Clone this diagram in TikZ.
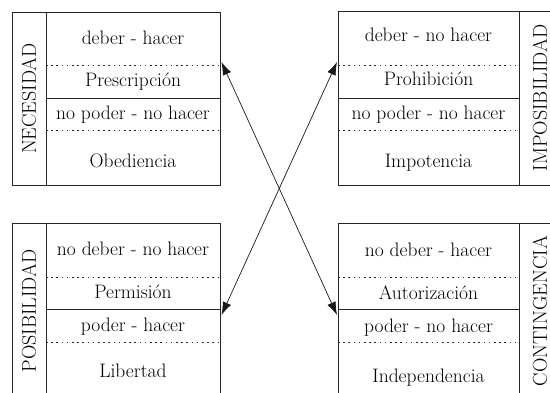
\documentclass[tikz,border=0pt]{standalone}
\usepackage{fontspec}
\usepackage{tikz}
\usetikzlibrary{arrows.meta}
\tikzset{
    cell-text/.style = {inner sep=0pt, text height=13pt, text depth=4pt, font=\fontsize{19.5}{23}\selectfont},
    side-title/.style = {inner sep=0pt, rotate=90, font=\fontsize{20}{24}\selectfont},
    box-line/.style = {draw=black!85, line width=0.8pt},
    dot-line/.style = {draw=black!85, line width=0.8pt, dash pattern=on 1.6pt off 3.6pt},
    cross-arrow/.style = {draw=black!90, line width=0.7pt, {Latex[length=13pt,width=9pt]}-{Latex[length=13pt,width=9pt]}},
}

\begin{document}
\begin{tikzpicture}[x=1pt,y=1pt]
\useasboundingbox (0,0) rectangle (550,392);
\clip (0,0) rectangle (550,392);

% necesidad (arriba izquierda)
\draw[box-line] (12,207) rectangle (220,380);
\draw[box-line] (46,207) -- (46,380);
\draw[dot-line] (46,327) -- (220,327);
\draw[box-line] (46,294) -- (220,294);
\draw[dot-line] (46,262) -- (220,262);
\node[side-title] (nec) at (29,293.5) {NECESIDAD};
\node[cell-text] (nec-a) at (133,352) {deber - hacer};
\node[cell-text] (nec-b) at (133,310) {Prescripción};
\node[cell-text] (nec-c) at (133,277) {no poder - no hacer};
\node[cell-text] (nec-d) at (133,229) {Obediencia};

% imposibilidad (arriba derecha)
\draw[box-line] (338,207) rectangle (560,381);
\draw[box-line] (519,207) -- (519,381);
\draw[dot-line] (338,327) -- (519,327);
\draw[box-line] (338,294) -- (519,294);
\draw[dot-line] (338,262) -- (519,262);
\node[side-title] (imp) at (540,294) {IMPOSIBILIDAD};
\node[cell-text] (imp-a) at (428.5,355) {deber - no hacer};
\node[cell-text] (imp-b) at (428.5,311) {Prohibición};
\node[cell-text] (imp-c) at (428.5,277) {no poder - no hacer};
\node[cell-text] (imp-d) at (428.5,229) {Impotencia};

% posibilidad (abajo izquierda)
\draw[box-line] (12,-7) rectangle (220,169);
\draw[box-line] (46,-7) -- (46,169);
\draw[dot-line] (46,115) -- (220,115);
\draw[box-line] (46,83) -- (220,83);
\draw[dot-line] (46,50) -- (220,50);
\node[side-title] (pos) at (29,81) {POSIBILIDAD};
\node[cell-text] (pos-a) at (133,141) {no deber - no hacer};
\node[cell-text] (pos-b) at (133,98) {Permisión};
\node[cell-text] (pos-c) at (133,65) {poder - hacer};
\node[cell-text] (pos-d) at (133,19) {Libertad};

% contingencia (abajo derecha)
\draw[box-line] (338,-7) rectangle (560,169);
\draw[box-line] (519,-7) -- (519,169);
\draw[dot-line] (338,115) -- (519,115);
\draw[box-line] (338,83) -- (519,83);
\draw[dot-line] (338,50) -- (519,50);
\node[side-title] (con) at (540,81) {CONTINGENCIA};
\node[cell-text] (con-a) at (428.5,140) {no deber - hacer};
\node[cell-text] (con-b) at (428.5,97) {Autorización};
\node[cell-text] (con-c) at (428.5,64) {poder - no hacer};
\node[cell-text] (con-d) at (428.5,14) {Independencia};

% flechas cruzadas
\coordinate (nec-tip) at (221.5,330);
\coordinate (imp-tip) at (337,330);
\coordinate (pos-tip) at (221.5,77);
\coordinate (con-tip) at (337,77);
\draw[cross-arrow] (nec-tip) -- (con-tip);
\draw[cross-arrow] (imp-tip) -- (pos-tip);
\end{tikzpicture}
\end{document}
